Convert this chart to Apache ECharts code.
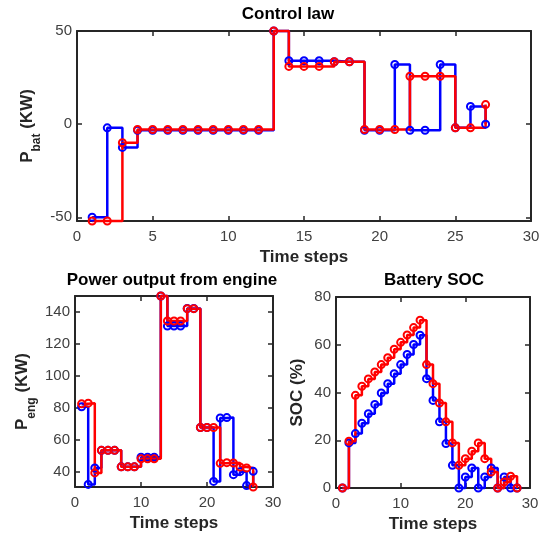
<!DOCTYPE html>
<html>
<head>
<meta charset="utf-8">
<script src="https://cdn.jsdelivr.net/npm/echarts@6/dist/echarts.min.js"></script>
<style>
  html, body { margin: 0; padding: 0; background: #fff; }
</style>
</head>
<body>
<div id="main" style="width:551px;height:536px;"></div>
<script>
// time steps
var steps27 = [1,2,3,4,5,6,7,8,9,10,11,12,13,14,15,16,17,18,19,20,21,22,23,24,25,26,27];
var steps28 = [1,2,3,4,5,6,7,8,9,10,11,12,13,14,15,16,17,18,19,20,21,22,23,24,25,26,27,28];

// Control law (P_bat, KW)
var pbatBlue = [-50, -2, -12.5, -3.3, -3.3, -3.3, -3.3, -3.3, -3.3, -3.3, -3.3, -3.3, 50,
  34, 34, 34, 33.5, 33.5, -3.3, -3.3, 32, -3.3, -3.3, 32, -2, 9.5, 0];
var pbatRed = [-52, -52, -10, -2.9, -2.9, -2.9, -2.9, -2.9, -2.9, -2.9, -2.9, -2.9, 50,
  31, 31, 31, 33.5, 33.5, -2.9, -2.9, -2.9, 25.7, 25.7, 25.7, -2, -2, 10.5];

// Power output from engine (P_eng, KW)
var pengBlue = [80.5, 32, 42.3, 53.3, 53.3, 53.3, 43, 43, 43, 49, 49, 49, 149.8,
  131, 131, 131, 142, 142, 67.6, 67.6, 33.9, 73.5, 73.8, 38.1, 40, 31.3, 40.2];
var pengRed = [82.4, 82.8, 39.2, 53.3, 53.3, 53.3, 43, 43, 43, 48, 48, 48, 149.8,
  134.2, 134.2, 134.2, 141.9, 141.9, 67.6, 67.6, 67.6, 45.2, 45.6, 45.4, 42.9, 42.3, 30.4];

// Battery SOC (%)
var socBlue = [0, 18.9, 22.8, 27.1, 31.1, 35, 39.8, 43.7, 47.9, 51.7, 55.9, 60.1, 64,
  45.8, 36.7, 27.7, 18.6, 9.5, 0, 4.6, 8.4, 0, 4.6, 8.4, 0, 4.6, 0, 0];
var socRed = [0, 19.6, 38.8, 42.6, 45.7, 48.6, 51.7, 54.6, 58.1, 61, 64.1, 67.2, 70.3,
  51.7, 43.7, 35.6, 27.7, 18.9, 9.5, 12.3, 15.4, 18.9, 12.3, 6.7, 0, 2.5, 4.9, 0];

// tick labels
var xTicksTop = [0, 5, 10, 15, 20, 25, 30];
var xTicksBottom = [0, 10, 20, 30];
var yTicksPbat = [-50, 0, 50];
var yTicksPeng = [40, 60, 80, 100, 120, 140];
var yTicksSoc = [0, 20, 40, 60, 80];

var FONT = '"Liberation Sans", Arial, Helvetica, sans-serif';
var AXC = '#262626';
var BLUE = '#0000ff';
var RED = '#ff0000';

var chart = echarts.init(document.getElementById('main'));

function pairs(xs, ys) {
  var out = [];
  for (var i = 0; i < ys.length; i++) out.push([xs[i], ys[i]]);
  return out;
}

function xAx(gi, ticks, top, name) {
  return {
    type: 'value', gridIndex: gi, position: top ? 'top' : 'bottom',
    min: 0, max: 30,
    axisLine: { show: true, onZero: false, lineStyle: { color: AXC, width: 2 } },
    axisTick: { show: true, inside: true, length: 5, customValues: ticks, lineStyle: { color: AXC, width: 1.5 } },
    axisLabel: { show: !top, customValues: ticks, margin: 8, fontSize: 15, color: '#404040', fontFamily: FONT },
    splitLine: { show: false },
    name: top ? '' : name, nameLocation: 'middle', nameGap: 28, nameMoveOverlap: false,
    nameTextStyle: { fontSize: 17, fontWeight: 'bold', color: '#262626', fontFamily: FONT }
  };
}

function yAx(gi, min, max, ticks, right, name, gap) {
  return {
    type: 'value', gridIndex: gi, position: right ? 'right' : 'left',
    min: min, max: max,
    axisLine: { show: true, onZero: false, lineStyle: { color: AXC, width: 2 } },
    axisTick: { show: true, inside: true, length: 5, customValues: ticks, lineStyle: { color: AXC, width: 1.5 } },
    axisLabel: { show: !right, customValues: ticks, margin: 5, fontSize: 15, color: '#404040', fontFamily: FONT },
    splitLine: { show: false },
    name: right ? '' : name, nameLocation: 'middle', nameGap: gap, nameRotate: 90, nameMoveOverlap: false,
    nameTextStyle: {
      fontSize: 17, fontWeight: 'bold', color: '#262626', fontFamily: FONT,
      rich: {
        b: { fontSize: 17, fontWeight: 'bold', color: '#262626', fontFamily: FONT, lineHeight: 24, verticalAlign: 'top' },
        s: { fontSize: 12, fontWeight: 'bold', color: '#262626', fontFamily: FONT, lineHeight: 24, verticalAlign: 'bottom' }
      }
    }
  };
}

function stairs(xi, yi, xs, ys, color) {
  return {
    type: 'line', xAxisIndex: xi, yAxisIndex: yi,
    step: 'end', clip: false, animation: false,
    data: pairs(xs, ys),
    symbol: 'circle', symbolSize: 7, showSymbol: true,
    lineStyle: { color: color, width: 2.5 },
    itemStyle: { color: 'rgba(0,0,0,0)', borderColor: color, borderWidth: 2 },
    emphasis: { disabled: true }
  };
}

var option = {
  backgroundColor: '#fff',
  animation: false,
  title: [
    { text: 'Control law', left: 288, top: 6, textAlign: 'center', padding: 0,
      textStyle: { fontSize: 17, fontWeight: 'bold', color: '#000', fontFamily: FONT } },
    { text: 'Power output from engine', left: 172, top: 272, textAlign: 'center', padding: 0,
      textStyle: { fontSize: 17, fontWeight: 'bold', color: '#000', fontFamily: FONT } },
    { text: 'Battery SOC', left: 434, top: 272, textAlign: 'center', padding: 0,
      textStyle: { fontSize: 17, fontWeight: 'bold', color: '#000', fontFamily: FONT } }
  ],
  grid: [
    { left: 77, top: 31, width: 454, height: 190 },
    { left: 75, top: 296, width: 198, height: 191 },
    { left: 336, top: 297, width: 194, height: 191 }
  ],
  xAxis: [
    xAx(0, xTicksTop, false, 'Time steps'), xAx(0, xTicksTop, true),
    xAx(1, xTicksBottom, false, 'Time steps'), xAx(1, xTicksBottom, true),
    xAx(2, xTicksBottom, false, 'Time steps'), xAx(2, xTicksBottom, true)
  ],
  yAxis: [
    yAx(0, -52, 50, yTicksPbat, false, '{b|P}{s|bat}{b| (KW)}', 34), yAx(0, -52, 50, yTicksPbat, true),
    yAx(1, 30.4, 149.8, yTicksPeng, false, '{b|P}{s|eng}{b| (KW)}', 37), yAx(1, 30.4, 149.8, yTicksPeng, true),
    yAx(2, 0, 80, yTicksSoc, false, 'SOC (%)', 30), yAx(2, 0, 80, yTicksSoc, true)
  ],
  series: [
    stairs(0, 0, steps27, pbatBlue, BLUE),
    stairs(0, 0, steps27, pbatRed, RED),
    stairs(2, 2, steps27, pengBlue, BLUE),
    stairs(2, 2, steps27, pengRed, RED),
    stairs(4, 4, steps28, socBlue, BLUE),
    stairs(4, 4, steps28, socRed, RED)
  ]
};

chart.setOption(option);
</script>
</body>
</html>
